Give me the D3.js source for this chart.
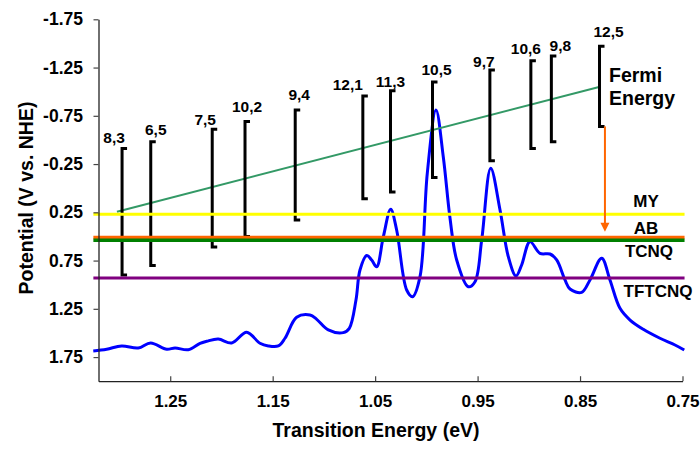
<!DOCTYPE html>
<html>
<head>
<meta charset="utf-8">
<script src="https://cdn.jsdelivr.net/npm/d3@7"></script>
<style>
  html, body { margin: 0; padding: 0; background: #fff; }
  svg text { font-family: "Liberation Sans", Arial, Helvetica, sans-serif; font-weight: bold; fill: #000; }
</style>
</head>
<body>
<svg id="chart" width="700" height="451"></svg>
<script>
// ---- axis ticks ----
const energyTicks = [1.25, 1.15, 1.05, 0.95, 0.85, 0.75];
const potentialTicks = [-1.75, -1.25, -0.75, -0.25, 0.25, 0.75, 1.25, 1.75];

// ---- potential windows of each (n,m) tube: label, transition energy (eV), top / bottom (V vs NHE) ----
const bandLabels = ["8,3", "6,5", "7,5", "10,2", "9,4", "12,1", "11,3", "10,5", "9,7", "10,6", "9,8", "12,5"];
const bandEnergy = [1.297, 1.269, 1.209, 1.177, 1.128, 1.062, 1.035, 0.994, 0.938, 0.898, 0.878, 0.831];
const bandTop    = [-0.41, -0.48, -0.61, -0.69, -0.81, -0.955, -1.01, -1.10, -1.225, -1.32, -1.37, -1.47];
const bandBottom = [0.90, 0.80, 0.61, 0.50, 0.33, 0.11, 0.04, -0.11, -0.285, -0.41, -0.48, -0.64];

// ---- Fermi energy trend ----
const fermiEnergy = [1.302, 0.8305];
const fermiPotential = [0.244, -1.052];

// ---- reduction potentials of the dopants ----
const levelNames = ["MY", "AB", "TCNQ", "TFTCNQ"];
const levelValues = [0.27, 0.51, 0.54, 0.93];
const levelColors = ["#ffff00", "#ff6600", "#008000", "#800080"];
const levelSpan = [1.325, 0.748];

// ---- arrow from the (12,5) window down to the AB level ----
const arrowEnergy = 0.8257;
const arrowPotential = [-0.64, 0.451];

// ---- absorption spectrum (scaled onto the potential axis) ----
const specEnergy = [1.3251, 1.312, 1.2974, 1.2812, 1.2691, 1.2534, 1.2453, 1.2324, 1.2209, 1.2144,
  1.2031, 1.19, 1.1754, 1.1624, 1.1543, 1.1445, 1.138, 1.1266, 1.1136, 1.107,
  1.0957, 1.0811, 1.0752, 1.0687, 1.0648, 1.0582, 1.0534, 1.0485, 1.042, 1.0348,
  1.029, 1.0192, 1.0134, 1.0062, 0.9991, 0.9906, 0.9835, 0.9769, 0.9704, 0.9591,
  0.9525, 0.946, 0.9372, 0.9281, 0.92, 0.9125, 0.907, 0.8989, 0.8891, 0.8793,
  0.8728, 0.8647, 0.8598, 0.8484, 0.8403, 0.8289, 0.8208, 0.811, 0.8012, 0.7883,
  0.772, 0.7573, 0.7483];
const specValue = [1.687, 1.669, 1.635, 1.656, 1.604, 1.669, 1.656, 1.674, 1.607, 1.586,
  1.563, 1.604, 1.493, 1.607, 1.635, 1.635, 1.555, 1.338, 1.314, 1.359,
  1.469, 1.497, 1.452, 1.159, 0.848, 0.697, 0.744, 0.814, 0.503, 0.219,
  0.433, 1.055, 1.124, 0.917, -0.154, -0.810, -0.326, 0.312, 0.744, 1.021,
  0.969, 0.537, -0.206, 0.226, 0.710, 0.910, 0.796, 0.554, 0.675, 0.682,
  0.744, 0.951, 1.045, 1.079, 0.951, 0.726, 0.951, 1.245, 1.366, 1.462,
  1.555, 1.625, 1.677];

// ---- drawing ----
const svg = d3.select("#chart");
svg.append("rect").attr("width", 700).attr("height", 451).attr("fill", "#fff");

const x = d3.scaleLinear().domain([1.32, 0.75]).range([98.5, 682.5]);
const y = d3.scaleLinear().domain([-1.75, 2.0]).range([19.3, 381.2]);

// spectrum
const spectrum = specEnergy.map((e, i) => [e, specValue[i]]);
svg.append("path")
  .datum(spectrum)
  .attr("fill", "none")
  .attr("stroke", "#0000ff")
  .attr("stroke-width", 3)
  .attr("stroke-linejoin", "round")
  .attr("d", d3.line().x(d => x(d[0])).y(d => y(d[1])).curve(d3.curveCatmullRom.alpha(0.5)));

// Fermi energy line
svg.append("line")
  .attr("x1", x(fermiEnergy[0])).attr("y1", y(fermiPotential[0]))
  .attr("x2", x(fermiEnergy[1])).attr("y2", y(fermiPotential[1]))
  .attr("stroke", "#339966").attr("stroke-width", 2);

// bracket windows
const serif = 5;
const brackets = svg.append("g");
bandLabels.forEach((lab, i) => {
  const bx = x(bandEnergy[i]);
  const t = y(bandTop[i]);
  const b = y(bandBottom[i]);
  brackets.append("path")
    .attr("d", `M${bx + serif},${t}H${bx}V${b}H${bx + serif}`)
    .attr("fill", "none").attr("stroke", "#000").attr("stroke-width", 3)
    .attr("stroke-linejoin", "miter").attr("stroke-linecap", "butt");
});

// label nudges (px) so neighbouring labels do not collide
const labelDx = [-8, 5, -7, 2, 4, -15, 0, 4, -6, -5, 9, 9];
const labelDy = [-6, -7, -4, -10, -10, -6, -4, -7, -3, -7, -5, -9];
bandLabels.forEach((lab, i) => {
  svg.append("text")
    .attr("x", x(bandEnergy[i]) + labelDx[i])
    .attr("y", y(bandTop[i]) + labelDy[i])
    .attr("text-anchor", "middle")
    .attr("font-size", 15.5)
    .text(lab);
});

// dopant levels
levelValues.forEach((v, i) => {
  svg.append("line")
    .attr("x1", x(levelSpan[0])).attr("x2", x(levelSpan[1]))
    .attr("y1", y(v)).attr("y2", y(v))
    .attr("stroke", levelColors[i]).attr("stroke-width", i === 0 || i === 3 ? 3 : 3.5);
});
const levelLabelX = [646, 646, 649, 658];
const levelLabelDy = [-7, -3, 17, 19];
levelNames.forEach((n, i) => {
  svg.append("text")
    .attr("x", levelLabelX[i])
    .attr("y", y(levelValues[i]) + levelLabelDy[i])
    .attr("text-anchor", "middle")
    .attr("font-size", 17)
    .text(n);
});

// arrow
const ax = x(arrowEnergy);
const ay0 = y(arrowPotential[0]);
const ay1 = y(arrowPotential[1]);
svg.append("line")
  .attr("x1", ax).attr("x2", ax).attr("y1", ay0).attr("y2", ay1 - 8)
  .attr("stroke", "#ff6600").attr("stroke-width", 2);
svg.append("path")
  .attr("d", `M${ax - 4.5},${ay1 - 9}L${ax + 4.5},${ay1 - 9}L${ax},${ay1}Z`)
  .attr("fill", "#ff6600");

// Fermi Energy caption
const fermiText = svg.append("text").attr("font-size", 19.5);
fermiText.append("tspan").attr("x", 609).attr("y", 82).text("Fermi");
fermiText.append("tspan").attr("x", 609).attr("y", 105).text("Energy");

// axes
const yAxis = svg.append("g")
  .attr("transform", `translate(${x.range()[0]},0)`)
  .call(d3.axisLeft(y).tickValues(potentialTicks).tickSize(5).tickSizeOuter(0)
    .tickPadding(10.5).tickFormat(d => d.toFixed(2)));
yAxis.selectAll("text").attr("font-size", 17.5).style("font-family", null);
yAxis.attr("font-family", null).attr("font-size", null);

const xAxis = svg.append("g")
  .attr("transform", `translate(0,${y.range()[1]})`)
  .call(d3.axisBottom(x).tickValues(energyTicks).tickSizeInner(-5).tickSizeOuter(0)
    .tickPadding(14).tickFormat(d => d.toFixed(2)));
xAxis.selectAll("text").attr("font-size", 17);
xAxis.attr("font-family", null).attr("font-size", null);

[yAxis, xAxis].forEach(g => {
  g.select(".domain").attr("stroke", "#222").attr("stroke-width", 1.3);
  g.selectAll(".tick line").attr("stroke", "#444").attr("stroke-width", 1.2);
});

// axis titles
svg.append("text")
  .attr("x", 376).attr("y", 437)
  .attr("text-anchor", "middle").attr("font-size", 19.5)
  .text("Transition Energy (eV)");
svg.append("text")
  .attr("transform", "translate(33,198) rotate(-90)")
  .attr("text-anchor", "middle").attr("font-size", 19.5)
  .text("Potential (V vs. NHE)");
</script>
</body>
</html>
